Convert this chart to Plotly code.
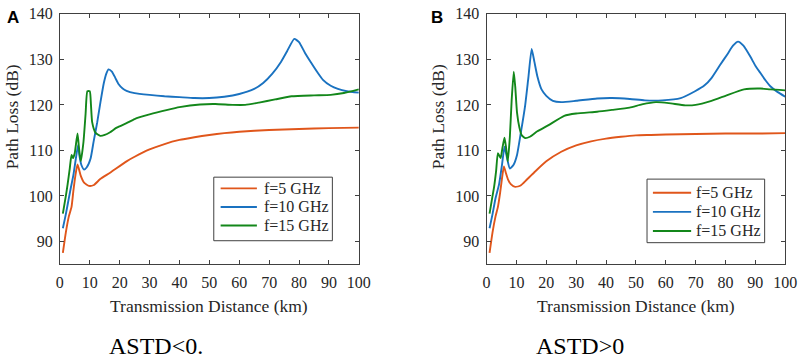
import plotly.graph_objects as go

# ---------------- Data ----------------
# Panel A (ASTD<0)
a5_x = [1, 2, 3, 3.9, 4.5, 5.2, 5.9, 7.0, 8.1, 9.7, 11.4, 13.5, 16.8, 22.3, 25, 30, 35, 40, 45, 50, 55, 60, 70, 80, 90, 100]
a5_y = [87.5, 92, 95.5, 97.6, 101, 104.5, 106.9, 104.4, 102.9, 102.2, 102.4, 103.7, 105.1, 107.6, 108.6, 110.2, 111.4, 112.3, 112.9, 113.4, 113.8, 114.1, 114.5, 114.7, 114.9, 115.0]

a10_x = [1, 2, 3, 3.7, 4.5, 5.3, 6.1, 6.5, 7.2, 8.1, 9, 10.3, 11.3, 12.5, 13.6, 14.7, 15.6, 16.3, 17.4, 18.5, 19.6, 21, 22.3, 25, 30, 35, 40, 45, 50, 55, 60, 65, 68, 71, 74, 76, 78.4, 80, 82, 84, 86.2, 88, 90.6, 93, 96, 100]
a10_y = [92.9, 96, 99.5, 101.9, 104.5, 108, 111.2, 109, 106.8, 105.8, 106.3, 108.3, 112, 116.2, 120.7, 124.8, 127, 127.8, 127.3, 126, 124.6, 123.6, 123.1, 122.6, 122.2, 121.9, 121.7, 121.5, 121.5, 121.8, 122.4, 123.5, 124.8, 126.8, 129.5, 131.8, 134.5, 133.8, 131.4, 129.3, 127.1, 125.5, 124.2, 123.5, 123.0, 122.7]

a15_x = [1, 2, 2.6, 3.3, 3.9, 4.4, 5.0, 5.9, 6.4, 7.0, 7.9, 8.6, 9.2, 10.0, 10.4, 10.8, 11.9, 13.5, 15, 16.8, 19, 22.3, 25, 30, 36, 40, 46.9, 52, 57.8, 62, 66.6, 72, 77.5, 85, 90.6, 95, 100]
a15_y = [96.1, 100, 102.6, 106, 109, 108.3, 109.5, 113.7, 110.5, 107.6, 111.9, 118, 123, 123, 120, 116.2, 113.9, 113.2, 113.4, 114, 115, 116, 116.9, 117.9, 118.9, 119.5, 120.1, 120.2, 120.0, 120.0, 120.5, 121.2, 121.9, 122.1, 122.2, 122.6, 123.4]

# Panel B (ASTD>0)
b5_x = [1, 2, 3, 3.8, 4.5, 5.2, 5.8, 6.5, 7.2, 8.1, 9.6, 11.4, 13.5, 16, 20, 25, 30, 35, 40, 45, 50, 55, 60, 70, 80, 90, 100]
b5_y = [87.5, 92, 95.5, 97.6, 100.5, 104, 106.5, 105, 103.6, 102.6, 102.0, 102.3, 103.6, 105.2, 107.6, 109.7, 111.1, 112.0, 112.6, 113.0, 113.3, 113.4, 113.5, 113.6, 113.7, 113.7, 113.8]

b10_x = [1, 2, 3, 4.2, 5.2, 6.0, 6.8, 7.8, 9, 10.2, 11.5, 12.9, 14, 15.1, 16, 17, 18.4, 20, 22.2, 25, 30, 37, 42, 48, 53, 58.8, 65, 69.8, 73, 75.3, 78, 80.7, 82.5, 84.2, 86, 88.4, 90, 91.7, 93.5, 95, 97.5, 100]
b10_y = [92.9, 96, 99.5, 102.6, 107, 110.8, 108.5, 106, 106.8, 109, 114, 119.8, 126, 132.3, 129.5, 126.3, 123.4, 122, 120.9, 120.6, 120.9, 121.4, 121.5, 121.3, 121.0, 121.0, 121.5, 123, 124.3, 125.9, 128.6, 131.2, 133, 133.9, 133.0, 130.5, 128.6, 127, 125.3, 124.1, 122.8, 121.8]

b15_x = [1, 2, 2.5, 3.2, 3.8, 4.7, 5.3, 6.0, 6.5, 7.1, 7.8, 8.4, 9.1, 9.6, 10.2, 11, 11.8, 13.0, 14.5, 17, 20.6, 26, 30, 37, 42, 47.9, 52, 56.7, 61, 66.5, 70, 75.3, 80, 86.2, 91.7, 95, 100]
b15_y = [96.1, 100, 101.9, 105.5, 109.4, 108.3, 110.5, 112.8, 110.8, 107.6, 113, 121, 127.3, 124, 118.3, 115, 113.3, 112.7, 113.0, 114.2, 115.5, 117.6, 118.1, 118.5, 118.9, 119.4, 120.1, 120.6, 120.4, 119.9, 120.0, 120.9, 122.0, 123.4, 123.6, 123.4, 123.2]

names = ["f=5 GHz", "f=10 GHz", "f=15 GHz"]
colors = ["#E0561B", "#1A72C0", "#13871A"]
x_ticks = [0, 10, 20, 30, 40, 50, 60, 70, 80, 90, 100]
y_ticks = [90, 100, 110, 120, 130, 140]
captions = ["ASTD&lt;0.", "ASTD&gt;0"]
panel_labels = ["A", "B"]
x_title = "Transmission Distance (km)"
y_title = "Path Loss (dB)"

W, H = 809, 361
SERIF = "Liberation Serif"
SANS = "Liberation Sans"
AX = "#404040"
TXT = "#262626"

def px_x(p):
    return p / W

def px_y(p):
    return 1 - p / H

fig = go.Figure()
panels = [
    [(a5_x, a5_y), (a10_x, a10_y), (a15_x, a15_y)],
    [(b5_x, b5_y), (b10_x, b10_y), (b15_x, b15_y)],
]
for k, series in enumerate(panels):
    xa = "x" if k == 0 else "x2"
    ya = "y" if k == 0 else "y2"
    for i, (xs, ys) in enumerate(series):
        fig.add_trace(go.Scatter(x=xs, y=ys, mode="lines", name=names[i], showlegend=False,
                                 line=dict(color=colors[i], width=1.9, shape="spline", smoothing=0.5),
                                 xaxis=xa, yaxis=ya))

ydom = [px_y(262), px_y(6)]
xdoms = [[px_x(57), px_x(362)], [px_x(492.3), px_x(797)]]

def axis(extra):
    d = dict(showline=True, linecolor=AX, linewidth=1, mirror="ticks",
             ticks="inside", ticklen=4, tickcolor=AX, showgrid=False, zeroline=False,
             ticklabeloverflow="allow",
             tickfont=dict(family=SERIF, size=16, color=TXT))
    d.update(extra)
    return d

fig.update_layout(
    width=W, height=H, margin=dict(l=0, r=0, t=0, b=0),
    paper_bgcolor="white", plot_bgcolor="white", showlegend=False,
    xaxis=axis(dict(domain=xdoms[0], range=[0, 100], tickvals=x_ticks, anchor="y", ticklabelstandoff=4)),
    yaxis=axis(dict(domain=ydom, range=[85, 140], tickvals=y_ticks, anchor="x", ticklabelstandoff=3)),
    xaxis2=axis(dict(domain=xdoms[1], range=[0, 100], tickvals=x_ticks, anchor="y2", ticklabelstandoff=4)),
    yaxis2=axis(dict(domain=ydom, range=[85, 140], tickvals=y_ticks, anchor="x2", ticklabelstandoff=3)),
)

ann = []
shapes = []
ytitle_x = [8.5, 443]
caption_x = [155, 588]
label_x = [1, 434]
legend_box = [(214, 173, 335, 238), (656, 175, 776, 240)]
legend_line = [(221, 258), (662, 701)]
legend_rows = [(184.5, 203.5, 222.5), (189, 208.5, 228)]
legend_text_x = [263, 704]

for k in range(2):
    xc = (xdoms[k][0] + xdoms[k][1]) / 2
    ann.append(dict(text=x_title, x=xc, y=px_y(305), xref="paper", yref="paper",
                    showarrow=False, xanchor="center", yanchor="middle",
                    font=dict(family=SERIF, size=17.5, color=TXT)))
    ann.append(dict(text=y_title, x=px_x(ytitle_x[k]), y=px_y(111.5), xref="paper", yref="paper",
                    showarrow=False, textangle=-90, xanchor="center", yanchor="middle",
                    font=dict(family=SERIF, size=17.5, color=TXT)))
    ann.append(dict(text=captions[k], x=px_x(caption_x[k]), y=px_y(346), xref="paper", yref="paper",
                    showarrow=False, xanchor="center", yanchor="middle",
                    font=dict(family=SERIF, size=24, color="black")))
    ann.append(dict(text="<b>" + panel_labels[k] + "</b>", x=px_x(label_x[k]), y=px_y(9.5),
                    xref="paper", yref="paper", showarrow=False, xanchor="left", yanchor="middle",
                    font=dict(family=SANS, size=17, color="black")))
    x0, y0, x1, y1 = legend_box[k]
    shapes.append(dict(type="rect", xref="paper", yref="paper", x0=px_x(x0), x1=px_x(x1),
                       y0=px_y(y1), y1=px_y(y0), line=dict(color=AX, width=1), fillcolor="white",
                       layer="above"))
    for i in range(3):
        yy = legend_rows[k][i]
        shapes.append(dict(type="line", xref="paper", yref="paper",
                           x0=px_x(legend_line[k][0]), x1=px_x(legend_line[k][1]),
                           y0=px_y(yy), y1=px_y(yy), line=dict(color=colors[i], width=1.9),
                           layer="above"))
        ann.append(dict(text=names[i], x=px_x(legend_text_x[k]), y=px_y(yy), xref="paper", yref="paper",
                        showarrow=False, xanchor="left", yanchor="middle",
                        font=dict(family=SERIF, size=16, color=TXT)))

fig.update_layout(annotations=ann, shapes=shapes)

fig.write_html("out.html", config={"displayModeBar": False},
               post_script="document.body.style.margin='0';document.body.style.overflow='hidden';")
